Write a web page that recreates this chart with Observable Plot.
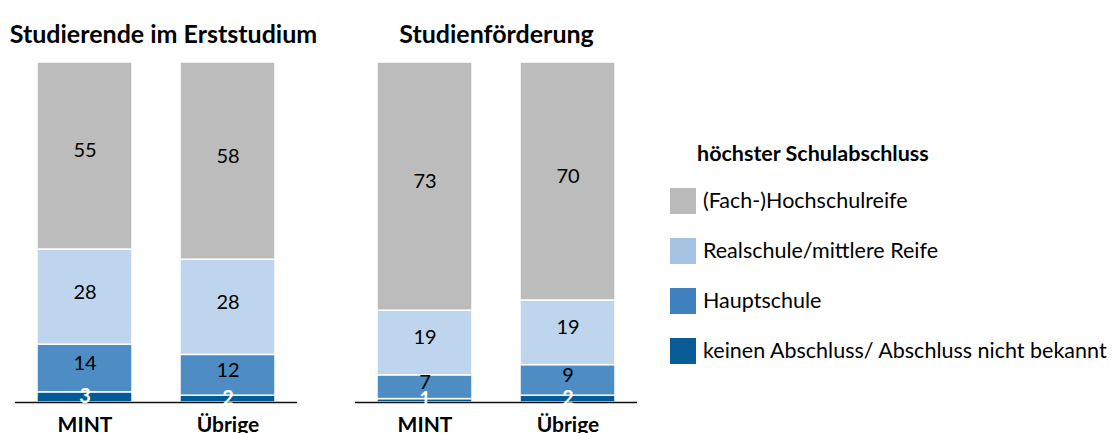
<!DOCTYPE html>
<html><head><meta charset="utf-8">
<script src="https://cdn.jsdelivr.net/npm/d3@7"></script>
<script src="https://cdn.jsdelivr.net/npm/@observablehq/plot@0.6"></script>
<style>
body{margin:0;background:#fff;font-family:Lato,"Open Sans",sans-serif;}
#wrap{position:relative;width:1114px;height:433px;overflow:hidden}
#chart{position:absolute;left:0;top:0}
#legend{position:absolute;left:670px;top:0;width:444px;height:433px}
.lt{position:absolute;left:27px;top:139px;font-weight:bold;font-size:21.5px;line-height:28px;color:#000;white-space:nowrap}
.li{position:absolute;left:0;height:26px;white-space:nowrap}
.sw{position:absolute;left:0;top:0;width:26px;height:26px}
.lx{position:absolute;left:33px;top:-1px;line-height:26px;font-size:21.5px;color:#000}
</style></head><body>
<div id="wrap"><div id="chart"></div><div id="legend"></div></div>
<script>
const panels = ["Studierende im Erststudium", "Studienförderung"];
const categories = ["MINT", "Übrige"];
const levels = ["keinen Abschluss/ Abschluss nicht bekannt", "Hauptschule", "Realschule/mittlere Reife", "(Fach-)Hochschulreife"];
const colors = ["#005b98", "#4e8cc4", "#bfd5ed", "#bcbcbc"];
const legendColors = ["#0a5c96", "#3f80be", "#a6c3e4", "#bbbbbb"];
const erstMINT = [3, 14, 28, 55];
const erstUebrige = [2, 12, 28, 58];
const foerdMINT = [1, 7, 19, 73];
const foerdUebrige = [2, 9, 19, 70];

const series = [[erstMINT, erstUebrige], [foerdMINT, foerdUebrige]];
const data = [];
panels.forEach((p, pi) => categories.forEach((c, ci) => {
  let acc = 0;
  levels.forEach((l, li) => {
    const v = series[pi][ci][li];
    data.push({panel: p, cat: c, level: l, value: v, y1: acc, y2: acc + v, mid: acc + v / 2});
    acc += v;
  });
}));

const chart = Plot.plot({
  width: 650, height: 433,
  marginLeft: 15, marginRight: 13, marginTop: 62, marginBottom: 31,
  style: {fontFamily: "Lato, 'Open Sans', sans-serif", background: "transparent"},
  fx: {domain: panels, paddingInner: 0.1706, paddingOuter: 0, axis: null},
  x: {domain: categories, paddingInner: 0.336, paddingOuter: 0.154, axis: null},
  y: {domain: [0, 100], axis: null},
  color: {domain: levels, range: colors},
  marks: [
    Plot.barY(data, {fx: "panel", x: "cat", y1: "y1", y2: "y2", fill: "level", stroke: "white", strokeWidth: 1.5}),
    Plot.ruleY(panels, {fx: d => d, y: 0, stroke: "#111", strokeWidth: 1.5}),
    Plot.text(data.filter(d => d.level !== levels[0]), {fx: "panel", x: "cat", y: "mid", text: "value", fill: "black", fontSize: 20, dy: -5}),
    Plot.text(data.filter(d => d.level === levels[0]), {fx: "panel", x: "cat", y: "mid", text: "value", fill: "white", fontSize: 20, fontWeight: "bold", dy: -1}),
    Plot.text([panels[0]], {fx: d => d, text: d => d, frameAnchor: "top", dy: -37, dx: 7, fontSize: 25, fontWeight: "bold", fill: "black"}),
    Plot.text([panels[1]], {fx: d => d, text: d => d, frameAnchor: "top", dy: -37, fontSize: 25, fontWeight: "bold", fill: "black"}),
    Plot.text(data.filter(d => d.level === levels[0]), {fx: "panel", x: "cat", text: "cat", frameAnchor: "bottom", dy: 29, fontSize: 21, fontWeight: "bold", fill: "black"})
  ]
});
document.getElementById("chart").appendChild(chart);

const lg = document.getElementById("legend");
const t = document.createElement("div"); t.className = "lt"; t.textContent = "höchster Schulabschluss"; lg.appendChild(t);
[3, 2, 1, 0].forEach((li, i) => {
  const it = document.createElement("div"); it.className = "li"; it.style.top = (188 + i * 50) + "px";
  const sw = document.createElement("div"); sw.className = "sw"; sw.style.background = legendColors[li];
  const tx = document.createElement("div"); tx.className = "lx"; tx.textContent = levels[li];
  it.appendChild(sw); it.appendChild(tx); lg.appendChild(it);
});
</script>
</body></html>
